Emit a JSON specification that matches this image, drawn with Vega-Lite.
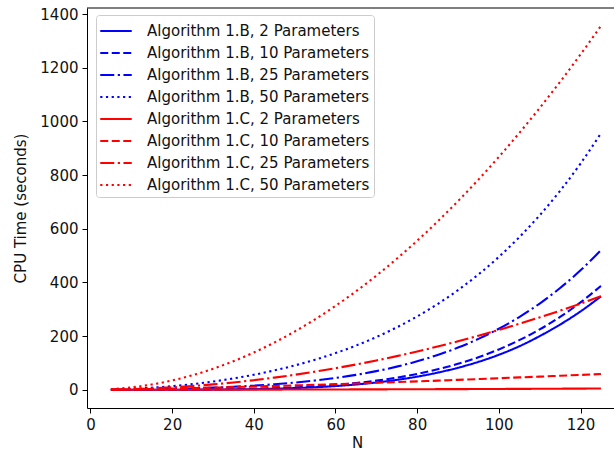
{
  "$schema": "https://vega.github.io/schema/vega-lite/v6.json",
  "width": 527,
  "height": 400,
  "autosize": {"type": "none"},
  "padding": {"left": 87, "top": 8, "right": 0, "bottom": 44},
  "background": "white",
  "config": {
    "view": {"stroke": null},
    "font": "DejaVu Sans",
    "axis": {
      "domainColor": "#000", "domainWidth": 1, "tickColor": "#000", "tickWidth": 1, "tickSize": 5,
      "labelPadding": 4, "labelFont": "DejaVu Sans", "labelFontSize": 15, "labelColor": "#111",
      "titleFont": "DejaVu Sans", "titleFontSize": 15, "titleFontWeight": "normal", "titleColor": "#111",
      "grid": false
    },
    "legend": {
      "orient": "none", "legendX": 9, "legendY": 7,
      "symbolType": "M-1.5,0H1.5", "symbolSize": 441, "symbolStrokeWidth": 2.1, "symbolOffset": 4,
      "labelFont": "DejaVu Sans", "labelFontSize": 15, "labelColor": "#111", "labelOffset": 19,
      "rowPadding": 2, "padding": 4, "strokeColor": "#cccccc", "fillColor": "rgba(255,255,255,0.8)",
      "cornerRadius": 3, "labelLimit": 400
    }
  },
  "layer": [
    {
      "data": {"values": [
{"N":5,"s":"Algorithm 1.B, 2 Parameters","t":0},{"N":10,"s":"Algorithm 1.B, 2 Parameters","t":0},{"N":15,"s":"Algorithm 1.B, 2 Parameters","t":0},{"N":20,"s":"Algorithm 1.B, 2 Parameters","t":0.1},{"N":25,"s":"Algorithm 1.B, 2 Parameters","t":0.3},{"N":30,"s":"Algorithm 1.B, 2 Parameters","t":0.7},{"N":35,"s":"Algorithm 1.B, 2 Parameters","t":1.3},{"N":40,"s":"Algorithm 1.B, 2 Parameters","t":2.3},{"N":45,"s":"Algorithm 1.B, 2 Parameters","t":3.9},{"N":50,"s":"Algorithm 1.B, 2 Parameters","t":6.2},{"N":55,"s":"Algorithm 1.B, 2 Parameters","t":9.4},{"N":60,"s":"Algorithm 1.B, 2 Parameters","t":13.8},{"N":65,"s":"Algorithm 1.B, 2 Parameters","t":19.6},{"N":70,"s":"Algorithm 1.B, 2 Parameters","t":27.1},{"N":75,"s":"Algorithm 1.B, 2 Parameters","t":36.8},{"N":80,"s":"Algorithm 1.B, 2 Parameters","t":48.8},{"N":85,"s":"Algorithm 1.B, 2 Parameters","t":63.8},{"N":90,"s":"Algorithm 1.B, 2 Parameters","t":82},{"N":95,"s":"Algorithm 1.B, 2 Parameters","t":104},{"N":100,"s":"Algorithm 1.B, 2 Parameters","t":130.4},{"N":105,"s":"Algorithm 1.B, 2 Parameters","t":162},{"N":110,"s":"Algorithm 1.B, 2 Parameters","t":200},{"N":115,"s":"Algorithm 1.B, 2 Parameters","t":243},{"N":120,"s":"Algorithm 1.B, 2 Parameters","t":292},{"N":125,"s":"Algorithm 1.B, 2 Parameters","t":348},
{"N":5,"s":"Algorithm 1.B, 10 Parameters","t":0},{"N":10,"s":"Algorithm 1.B, 10 Parameters","t":0},{"N":15,"s":"Algorithm 1.B, 10 Parameters","t":0.1},{"N":20,"s":"Algorithm 1.B, 10 Parameters","t":0.3},{"N":25,"s":"Algorithm 1.B, 10 Parameters","t":0.6},{"N":30,"s":"Algorithm 1.B, 10 Parameters","t":1.2},{"N":35,"s":"Algorithm 1.B, 10 Parameters","t":2.1},{"N":40,"s":"Algorithm 1.B, 10 Parameters","t":3.6},{"N":45,"s":"Algorithm 1.B, 10 Parameters","t":5.7},{"N":50,"s":"Algorithm 1.B, 10 Parameters","t":8.7},{"N":55,"s":"Algorithm 1.B, 10 Parameters","t":12.7},{"N":60,"s":"Algorithm 1.B, 10 Parameters","t":18.1},{"N":65,"s":"Algorithm 1.B, 10 Parameters","t":25.1},{"N":70,"s":"Algorithm 1.B, 10 Parameters","t":34},{"N":75,"s":"Algorithm 1.B, 10 Parameters","t":45.2},{"N":80,"s":"Algorithm 1.B, 10 Parameters","t":59},{"N":85,"s":"Algorithm 1.B, 10 Parameters","t":76.1},{"N":90,"s":"Algorithm 1.B, 10 Parameters","t":96.6},{"N":95,"s":"Algorithm 1.B, 10 Parameters","t":121.2},{"N":100,"s":"Algorithm 1.B, 10 Parameters","t":150.4},{"N":105,"s":"Algorithm 1.B, 10 Parameters","t":184.8},{"N":110,"s":"Algorithm 1.B, 10 Parameters","t":224.9},{"N":115,"s":"Algorithm 1.B, 10 Parameters","t":271.5},{"N":120,"s":"Algorithm 1.B, 10 Parameters","t":325.4},{"N":125,"s":"Algorithm 1.B, 10 Parameters","t":387.1},
{"N":5,"s":"Algorithm 1.B, 25 Parameters","t":0.2},{"N":10,"s":"Algorithm 1.B, 25 Parameters","t":0.8},{"N":15,"s":"Algorithm 1.B, 25 Parameters","t":1.8},{"N":20,"s":"Algorithm 1.B, 25 Parameters","t":3.3},{"N":25,"s":"Algorithm 1.B, 25 Parameters","t":5.2},{"N":30,"s":"Algorithm 1.B, 25 Parameters","t":7.8},{"N":35,"s":"Algorithm 1.B, 25 Parameters","t":11.1},{"N":40,"s":"Algorithm 1.B, 25 Parameters","t":15.2},{"N":45,"s":"Algorithm 1.B, 25 Parameters","t":20.3},{"N":50,"s":"Algorithm 1.B, 25 Parameters","t":26.7},{"N":55,"s":"Algorithm 1.B, 25 Parameters","t":34.5},{"N":60,"s":"Algorithm 1.B, 25 Parameters","t":44},{"N":65,"s":"Algorithm 1.B, 25 Parameters","t":55.5},{"N":70,"s":"Algorithm 1.B, 25 Parameters","t":69.4},{"N":75,"s":"Algorithm 1.B, 25 Parameters","t":86.2},{"N":80,"s":"Algorithm 1.B, 25 Parameters","t":106},{"N":85,"s":"Algorithm 1.B, 25 Parameters","t":129.6},{"N":90,"s":"Algorithm 1.B, 25 Parameters","t":157.2},{"N":95,"s":"Algorithm 1.B, 25 Parameters","t":189.6},{"N":100,"s":"Algorithm 1.B, 25 Parameters","t":227.4},{"N":105,"s":"Algorithm 1.B, 25 Parameters","t":271.1},{"N":110,"s":"Algorithm 1.B, 25 Parameters","t":321.4},{"N":115,"s":"Algorithm 1.B, 25 Parameters","t":379.2},{"N":120,"s":"Algorithm 1.B, 25 Parameters","t":445.1},{"N":125,"s":"Algorithm 1.B, 25 Parameters","t":520.1},
{"N":5,"s":"Algorithm 1.B, 50 Parameters","t":0.8},{"N":10,"s":"Algorithm 1.B, 50 Parameters","t":3.3},{"N":15,"s":"Algorithm 1.B, 50 Parameters","t":7.5},{"N":20,"s":"Algorithm 1.B, 50 Parameters","t":13.4},{"N":25,"s":"Algorithm 1.B, 50 Parameters","t":21.1},{"N":30,"s":"Algorithm 1.B, 50 Parameters","t":30.6},{"N":35,"s":"Algorithm 1.B, 50 Parameters","t":42.2},{"N":40,"s":"Algorithm 1.B, 50 Parameters","t":55.9},{"N":45,"s":"Algorithm 1.B, 50 Parameters","t":71.9},{"N":50,"s":"Algorithm 1.B, 50 Parameters","t":90.5},{"N":55,"s":"Algorithm 1.B, 50 Parameters","t":112},{"N":60,"s":"Algorithm 1.B, 50 Parameters","t":136.6},{"N":65,"s":"Algorithm 1.B, 50 Parameters","t":164.6},{"N":70,"s":"Algorithm 1.B, 50 Parameters","t":196.3},{"N":75,"s":"Algorithm 1.B, 50 Parameters","t":232.6},{"N":80,"s":"Algorithm 1.B, 50 Parameters","t":273.3},{"N":85,"s":"Algorithm 1.B, 50 Parameters","t":319.5},{"N":90,"s":"Algorithm 1.B, 50 Parameters","t":371.4},{"N":95,"s":"Algorithm 1.B, 50 Parameters","t":429.8},{"N":100,"s":"Algorithm 1.B, 50 Parameters","t":495.3},{"N":105,"s":"Algorithm 1.B, 50 Parameters","t":568.6},{"N":110,"s":"Algorithm 1.B, 50 Parameters","t":650.4},{"N":115,"s":"Algorithm 1.B, 50 Parameters","t":741.5},{"N":120,"s":"Algorithm 1.B, 50 Parameters","t":843.1},{"N":125,"s":"Algorithm 1.B, 50 Parameters","t":955.7},
{"N":5,"s":"Algorithm 1.C, 2 Parameters","t":0},{"N":10,"s":"Algorithm 1.C, 2 Parameters","t":0},{"N":15,"s":"Algorithm 1.C, 2 Parameters","t":0.1},{"N":20,"s":"Algorithm 1.C, 2 Parameters","t":0.1},{"N":25,"s":"Algorithm 1.C, 2 Parameters","t":0.2},{"N":30,"s":"Algorithm 1.C, 2 Parameters","t":0.3},{"N":35,"s":"Algorithm 1.C, 2 Parameters","t":0.4},{"N":40,"s":"Algorithm 1.C, 2 Parameters","t":0.5},{"N":45,"s":"Algorithm 1.C, 2 Parameters","t":0.6},{"N":50,"s":"Algorithm 1.C, 2 Parameters","t":0.8},{"N":55,"s":"Algorithm 1.C, 2 Parameters","t":0.9},{"N":60,"s":"Algorithm 1.C, 2 Parameters","t":1.1},{"N":65,"s":"Algorithm 1.C, 2 Parameters","t":1.3},{"N":70,"s":"Algorithm 1.C, 2 Parameters","t":1.5},{"N":75,"s":"Algorithm 1.C, 2 Parameters","t":1.7},{"N":80,"s":"Algorithm 1.C, 2 Parameters","t":1.9},{"N":85,"s":"Algorithm 1.C, 2 Parameters","t":2.2},{"N":90,"s":"Algorithm 1.C, 2 Parameters","t":2.4},{"N":95,"s":"Algorithm 1.C, 2 Parameters","t":2.7},{"N":100,"s":"Algorithm 1.C, 2 Parameters","t":3},{"N":105,"s":"Algorithm 1.C, 2 Parameters","t":3.3},{"N":110,"s":"Algorithm 1.C, 2 Parameters","t":3.6},{"N":115,"s":"Algorithm 1.C, 2 Parameters","t":4},{"N":120,"s":"Algorithm 1.C, 2 Parameters","t":4.3},{"N":125,"s":"Algorithm 1.C, 2 Parameters","t":4.7},
{"N":5,"s":"Algorithm 1.C, 10 Parameters","t":0.7},{"N":10,"s":"Algorithm 1.C, 10 Parameters","t":1.7},{"N":15,"s":"Algorithm 1.C, 10 Parameters","t":3},{"N":20,"s":"Algorithm 1.C, 10 Parameters","t":4.5},{"N":25,"s":"Algorithm 1.C, 10 Parameters","t":6.2},{"N":30,"s":"Algorithm 1.C, 10 Parameters","t":8},{"N":35,"s":"Algorithm 1.C, 10 Parameters","t":9.8},{"N":40,"s":"Algorithm 1.C, 10 Parameters","t":11.9},{"N":45,"s":"Algorithm 1.C, 10 Parameters","t":14},{"N":50,"s":"Algorithm 1.C, 10 Parameters","t":16.3},{"N":55,"s":"Algorithm 1.C, 10 Parameters","t":18.6},{"N":60,"s":"Algorithm 1.C, 10 Parameters","t":21},{"N":65,"s":"Algorithm 1.C, 10 Parameters","t":23.4},{"N":70,"s":"Algorithm 1.C, 10 Parameters","t":26},{"N":75,"s":"Algorithm 1.C, 10 Parameters","t":28.6},{"N":80,"s":"Algorithm 1.C, 10 Parameters","t":31.4},{"N":85,"s":"Algorithm 1.C, 10 Parameters","t":33.9},{"N":90,"s":"Algorithm 1.C, 10 Parameters","t":37},{"N":95,"s":"Algorithm 1.C, 10 Parameters","t":39.9},{"N":100,"s":"Algorithm 1.C, 10 Parameters","t":42.9},{"N":105,"s":"Algorithm 1.C, 10 Parameters","t":46},{"N":110,"s":"Algorithm 1.C, 10 Parameters","t":49},{"N":115,"s":"Algorithm 1.C, 10 Parameters","t":52.2},{"N":120,"s":"Algorithm 1.C, 10 Parameters","t":55.4},{"N":125,"s":"Algorithm 1.C, 10 Parameters","t":58.5},
{"N":5,"s":"Algorithm 1.C, 25 Parameters","t":0.6},{"N":10,"s":"Algorithm 1.C, 25 Parameters","t":2.2},{"N":15,"s":"Algorithm 1.C, 25 Parameters","t":5},{"N":20,"s":"Algorithm 1.C, 25 Parameters","t":8.9},{"N":25,"s":"Algorithm 1.C, 25 Parameters","t":13.9},{"N":30,"s":"Algorithm 1.C, 25 Parameters","t":20.1},{"N":35,"s":"Algorithm 1.C, 25 Parameters","t":27.3},{"N":40,"s":"Algorithm 1.C, 25 Parameters","t":35.7},{"N":45,"s":"Algorithm 1.C, 25 Parameters","t":45.2},{"N":50,"s":"Algorithm 1.C, 25 Parameters","t":55.8},{"N":55,"s":"Algorithm 1.C, 25 Parameters","t":67.5},{"N":60,"s":"Algorithm 1.C, 25 Parameters","t":80.3},{"N":65,"s":"Algorithm 1.C, 25 Parameters","t":94.2},{"N":70,"s":"Algorithm 1.C, 25 Parameters","t":109.3},{"N":75,"s":"Algorithm 1.C, 25 Parameters","t":125.4},{"N":80,"s":"Algorithm 1.C, 25 Parameters","t":142.7},{"N":85,"s":"Algorithm 1.C, 25 Parameters","t":161.1},{"N":90,"s":"Algorithm 1.C, 25 Parameters","t":180.6},{"N":95,"s":"Algorithm 1.C, 25 Parameters","t":201.3},{"N":100,"s":"Algorithm 1.C, 25 Parameters","t":223},{"N":105,"s":"Algorithm 1.C, 25 Parameters","t":245.9},{"N":110,"s":"Algorithm 1.C, 25 Parameters","t":269.8},{"N":115,"s":"Algorithm 1.C, 25 Parameters","t":294.9},{"N":120,"s":"Algorithm 1.C, 25 Parameters","t":321.1},{"N":125,"s":"Algorithm 1.C, 25 Parameters","t":348.4},
{"N":5,"s":"Algorithm 1.C, 50 Parameters","t":2.2},{"N":10,"s":"Algorithm 1.C, 50 Parameters","t":8.7},{"N":15,"s":"Algorithm 1.C, 50 Parameters","t":19.5},{"N":20,"s":"Algorithm 1.C, 50 Parameters","t":34.7},{"N":25,"s":"Algorithm 1.C, 50 Parameters","t":54.3},{"N":30,"s":"Algorithm 1.C, 50 Parameters","t":78.1},{"N":35,"s":"Algorithm 1.C, 50 Parameters","t":106.3},{"N":40,"s":"Algorithm 1.C, 50 Parameters","t":138.9},{"N":45,"s":"Algorithm 1.C, 50 Parameters","t":175.8},{"N":50,"s":"Algorithm 1.C, 50 Parameters","t":217},{"N":55,"s":"Algorithm 1.C, 50 Parameters","t":262.6},{"N":60,"s":"Algorithm 1.C, 50 Parameters","t":312.5},{"N":65,"s":"Algorithm 1.C, 50 Parameters","t":366.7},{"N":70,"s":"Algorithm 1.C, 50 Parameters","t":425.3},{"N":75,"s":"Algorithm 1.C, 50 Parameters","t":488.3},{"N":80,"s":"Algorithm 1.C, 50 Parameters","t":555.5},{"N":85,"s":"Algorithm 1.C, 50 Parameters","t":627.1},{"N":90,"s":"Algorithm 1.C, 50 Parameters","t":703.1},{"N":95,"s":"Algorithm 1.C, 50 Parameters","t":783.4},{"N":100,"s":"Algorithm 1.C, 50 Parameters","t":868},{"N":105,"s":"Algorithm 1.C, 50 Parameters","t":957},{"N":110,"s":"Algorithm 1.C, 50 Parameters","t":1050.3},{"N":115,"s":"Algorithm 1.C, 50 Parameters","t":1147.9},{"N":120,"s":"Algorithm 1.C, 50 Parameters","t":1249.9},{"N":125,"s":"Algorithm 1.C, 50 Parameters","t":1356.3}
      ]},
      "mark": {"type": "line", "strokeWidth": 2.1, "interpolate": "monotone"},
      "encoding": {
        "x": {"field": "N", "type": "quantitative", "title": "N",
          "scale": {"domain": [-0.85, 128.2], "nice": false, "zero": false},
          "axis": {"values": [0, 20, 40, 60, 80, 100, 120], "format": "d", "titleX": 270, "titleY": 39, "titleBaseline": "alphabetic", "titleAnchor": null}},
        "y": {"field": "t", "type": "quantitative", "title": "CPU Time (seconds)",
          "scale": {"domain": [-68, 1423], "nice": false, "zero": false},
          "axis": {"values": [0, 200, 400, 600, 800, 1000, 1200, 1400], "format": "d", "titlePadding": 11}},
        "color": {"field": "s", "type": "nominal", "title": null, "sort": null,
          "scale": {"domain": ["Algorithm 1.B, 2 Parameters", "Algorithm 1.B, 10 Parameters", "Algorithm 1.B, 25 Parameters", "Algorithm 1.B, 50 Parameters", "Algorithm 1.C, 2 Parameters", "Algorithm 1.C, 10 Parameters", "Algorithm 1.C, 25 Parameters", "Algorithm 1.C, 50 Parameters"],
            "range": ["#0000ff", "#0000ff", "#0000ff", "#0000ff", "#ff0000", "#ff0000", "#ff0000", "#ff0000"]}},
        "strokeDash": {"field": "s", "type": "nominal", "title": null, "sort": null,
          "scale": {"domain": ["Algorithm 1.B, 2 Parameters", "Algorithm 1.B, 10 Parameters", "Algorithm 1.B, 25 Parameters", "Algorithm 1.B, 50 Parameters", "Algorithm 1.C, 2 Parameters", "Algorithm 1.C, 10 Parameters", "Algorithm 1.C, 25 Parameters", "Algorithm 1.C, 50 Parameters"],
            "range": [[1, 0], [8, 3.5], [14, 3.5, 2.2, 3.5], [2.2, 3.5], [1, 0], [8, 3.5], [14, 3.5, 2.2, 3.5], [2.2, 3.5]]}}
      }
    },
    {
      "data": {"values": [{"top": 1423}]},
      "mark": {"type": "rule", "color": "#000", "strokeWidth": 1},
      "encoding": {"y": {"field": "top", "type": "quantitative"}}
    }
  ]
}
